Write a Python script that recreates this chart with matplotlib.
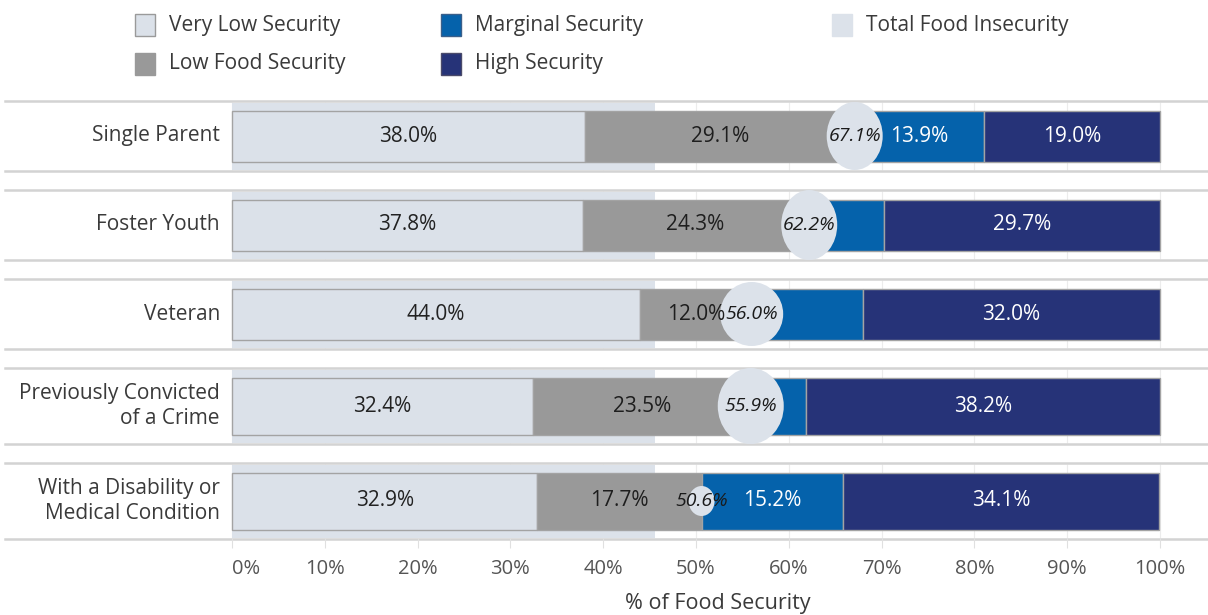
import numpy as np
import matplotlib.pyplot as plt
from matplotlib.patches import Ellipse, Rectangle

plt.rcParams['font.family'] = ['Open Sans', 'DejaVu Sans']

groups = ["Single Parent", "Foster Youth", "Veteran",
          "Previously Convicted\nof a Crime", "With a Disability or\nMedical Condition"]
very_low = [38.0, 37.8, 44.0, 32.4, 32.9]
low_food = [29.1, 24.3, 12.0, 23.5, 17.7]
marginal = [13.9, 8.2, 12.0, 5.9, 15.2]
high = [19.0, 29.7, 32.0, 38.2, 34.1]
total_insecure = [67.1, 62.2, 56.0, 55.9, 50.6]
overall_insecure = 45.6
xticks = [0, 10, 20, 30, 40, 50, 60, 70, 80, 90, 100]

c_vlow = "#dbe1e9"
c_low = "#999999"
c_marg = "#0562ab"
c_high = "#263378"
c_band = "#dce2ea"
c_edge = "#a3a3a3"
c_text = "#3a3a3a"

# bubble sizes in pixels (w, h)
bub_w = [56, 56, 63, 66, 26]
bub_h = [68, 70, 64, 76, 30]

W, H = 1208, 615
fig = plt.figure(figsize=(W / 100, H / 100), dpi=100)
ax = fig.add_axes([0, (H - 538) / H, 1, (538 - 93) / H])
pxu = 9.28  # pixels per percent
ax.set_xlim(-232 / pxu, (W - 232) / pxu)
ax.set_ylim(437, -8)

# row layout, taller rows for two-line labels
centers, tops, bots = [], [], []
y = 0
for g in groups:
    h = 76 if "\n" in g else 70
    tops.append(y)
    bots.append(y + h)
    centers.append(y + h / 2)
    y += h + 19
bar_h = [57 if "\n" in g else 51 for g in groups]

for i, g in enumerate(groups):
    yc = centers[i]
    # row lines
    ax.plot([-24.5, 106], [tops[i], tops[i]], color="#d3d3d3", lw=1.8, zorder=1, clip_on=False)
    ax.plot([-24.5, 106], [bots[i], bots[i]], color="#d3d3d3", lw=1.8, zorder=1, clip_on=False)
    # grid inside row
    ax.vlines(xticks, tops[i] + 1, bots[i] - 1, color="#ececec", lw=0.8, zorder=0)
    # overall total insecurity band
    ax.barh(yc, overall_insecure, height=bots[i] - tops[i] - 3, left=0, color=c_band, zorder=1)

    left = 0
    for vals, col, tcol, lab in [(very_low, c_vlow, "#222222", True),
                                 (low_food, c_low, "#1e1e1e", True),
                                 (marginal, c_marg, "white", marginal[i] > 13),
                                 (high, c_high, "white", True)]:
        v = vals[i]
        ax.barh(yc, v, height=bar_h[i], left=left, color=col, edgecolor=c_edge, lw=1.0, zorder=2)
        if lab:
            ax.text(left + v / 2, yc, f"{v:.1f}%", ha="center", va="center",
                    color=tcol, fontsize=15, zorder=5)
        left += v

    ax.add_patch(Ellipse((total_insecure[i], yc), bub_w[i] / pxu, bub_h[i],
                         facecolor=c_band, edgecolor="none", zorder=3))
    ax.text(total_insecure[i], yc, f"{total_insecure[i]:.1f}%", ha="center", va="center",
            fontsize=14, style="italic", color="#1a1a1a", zorder=6)

    ax.text(-12 / pxu, yc, g, ha="right", va="center", fontsize=15, color=c_text,
            linespacing=1.2)

for s in ax.spines.values():
    s.set_visible(False)
ax.set_yticks([])
ax.set_xticks(xticks)
ax.set_xticklabels([f"{t}%" for t in xticks])
ax.tick_params(axis="x", length=7, width=0.8, color="#e0e0e0", labelsize=14.5,
               labelcolor="#555555", pad=8)
ax.get_xticklabels()[0].set_ha("left")
fig.text(718 / W, 1 - 604 / H, "% of Food Security", ha="center", va="center",
         fontsize=15.5, color=c_text)

# legend
legend_items = [("Very Low Security", c_vlow, "#9a9a9a", 135, 25),
                ("Low Food Security", c_low, c_low, 135, 64),
                ("Marginal Security", c_marg, "#3a5f8a", 441, 25),
                ("High Security", c_high, "#4a4a6a", 441, 64),
                ("Total Food Insecurity", c_band, c_band, 832, 25)]
for lab, fc, ec, px, py in legend_items:
    fig.add_artist(Rectangle((px / W, 1 - (py + 11) / H), 20 / W, 22 / H,
                             facecolor=fc, edgecolor=ec, lw=1.0,
                             transform=fig.transFigure))
    fig.text((px + 34) / W, 1 - py / H, lab, ha="left", va="center",
             fontsize=15, color=c_text)

fig.savefig("out.png", dpi=100)
